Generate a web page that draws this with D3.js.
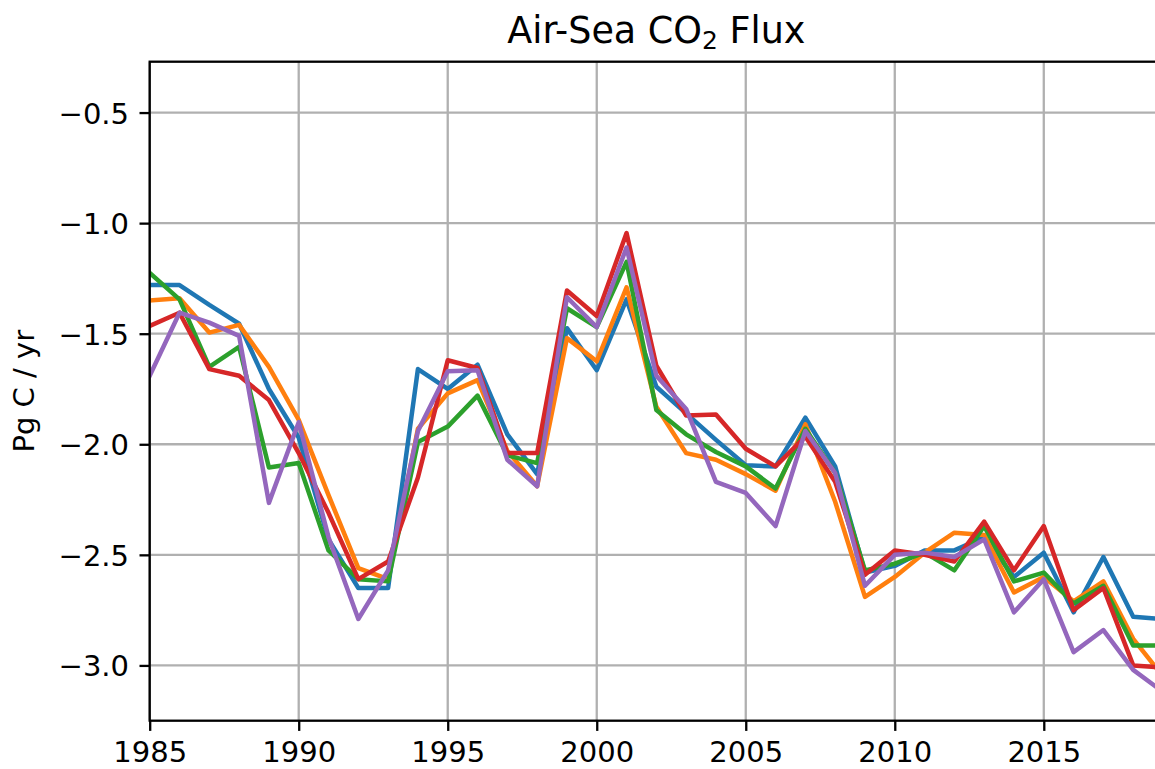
<!DOCTYPE html>
<html>
<head>
<meta charset="utf-8">
<script src="https://cdn.jsdelivr.net/npm/d3@7"></script>
<style>
  html, body { margin: 0; padding: 0; background: #ffffff; }
  svg { display: block; font-family: "DejaVu Sans", sans-serif; }
</style>
</head>
<body>
<svg id="chart" width="1155" height="769"></svg>
<script>
// ---------------- data ----------------
const years = d3.range(1985, 2020);

const seriesBlue = [-1.28, -1.28, -1.37, -1.455, -1.75, -1.97, -2.43, -2.65, -2.65, -1.66,
  -1.75, -1.64, -1.955, -2.135, -1.475, -1.665, -1.345, -1.74, -1.86, -1.98,
  -2.095, -2.10, -1.88, -2.10, -2.58, -2.55, -2.48, -2.48, -2.42, -2.60,
  -2.49, -2.76, -2.51, -2.78, -2.79];

const seriesOrange = [-1.35, -1.34, -1.495, -1.46, -1.65, -1.89, -2.23, -2.56, -2.61, -1.93,
  -1.77, -1.71, -2.03, -2.19, -1.52, -1.625, -1.29, -1.83, -2.04, -2.07,
  -2.135, -2.21, -1.91, -2.26, -2.69, -2.60, -2.49, -2.40, -2.41, -2.67,
  -2.60, -2.71, -2.62, -2.88, -3.05];

const seriesGreen = [-1.225, -1.345, -1.65, -1.56, -2.105, -2.085, -2.48, -2.61, -2.62, -1.99,
  -1.92, -1.78, -2.05, -2.085, -1.385, -1.47, -1.175, -1.845, -1.955, -2.035,
  -2.10, -2.20, -1.93, -2.13, -2.57, -2.54, -2.49, -2.57, -2.37, -2.62,
  -2.58, -2.72, -2.64, -2.91, -2.91];

const seriesRed = [-1.465, -1.405, -1.66, -1.69, -1.80, -2.04, -2.31, -2.61, -2.53, -2.15,
  -1.62, -1.655, -2.04, -2.04, -1.305, -1.42, -1.045, -1.645, -1.87, -1.865,
  -2.02, -2.10, -1.965, -2.17, -2.59, -2.48, -2.50, -2.53, -2.35, -2.57,
  -2.37, -2.75, -2.65, -3.00, -3.01];

const seriesPurple = [-1.69, -1.405, -1.45, -1.51, -2.265, -1.90, -2.42, -2.79, -2.57, -1.94,
  -1.67, -1.665, -2.07, -2.19, -1.335, -1.47, -1.11, -1.69, -1.84, -2.17,
  -2.22, -2.37, -1.94, -2.13, -2.64, -2.50, -2.49, -2.51, -2.43, -2.76,
  -2.61, -2.94, -2.84, -3.02, -3.12];

const seriesList = [seriesBlue, seriesOrange, seriesGreen, seriesRed, seriesPurple];
const seriesColors = ["#1f77b4", "#ff7f0e", "#2ca02c", "#d62728", "#9467bd"];

const xTicks = [1985, 1990, 1995, 2000, 2005, 2010, 2015];
const yTicks = [-3.0, -2.5, -2.0, -1.5, -1.0, -0.5];

const titleMain = "Air-Sea CO";
const titleSub = "2";
const titleEnd = " Flux";
const yLabel = "Pg C / yr";

// ---------------- layout ----------------
const plotL = 149.7, plotR = 1163, plotT = 61.7, plotB = 720.7;
const fs = 29;
const x = d3.scaleLinear().domain([1985, 2019]).range([plotL, plotR]);
const y = d3.scaleLinear().domain([-3.25, -0.27]).range([plotB, plotT]);

const svg = d3.select("#chart");
svg.append("rect").attr("width", 1155).attr("height", 769).attr("fill", "#fff");

svg.append("defs").append("clipPath").attr("id", "plotclip")
  .append("rect").attr("x", plotL).attr("y", plotT)
  .attr("width", plotR - plotL).attr("height", plotB - plotT);

// grid
const grid = svg.append("g");
grid.selectAll(".gx").data(xTicks).join("line")
  .attr("x1", d => x(d)).attr("x2", d => x(d))
  .attr("y1", plotT).attr("y2", plotB)
  .attr("stroke", "#b0b0b0").attr("stroke-width", 2.3);
grid.selectAll(".gy").data(yTicks).join("line")
  .attr("x1", plotL).attr("x2", plotR)
  .attr("y1", d => y(d)).attr("y2", d => y(d))
  .attr("stroke", "#b0b0b0").attr("stroke-width", 2.3);

// lines
const line = d3.line().x((d, i) => x(years[i])).y(d => y(d));
const lines = svg.append("g").attr("clip-path", "url(#plotclip)");
seriesList.forEach((s, k) => {
  lines.append("path").datum(s)
    .attr("d", line)
    .attr("fill", "none")
    .attr("stroke", seriesColors[k])
    .attr("stroke-width", 4.5)
    .attr("stroke-linejoin", "round")
    .attr("stroke-linecap", "square");
});

// axes
const fmtY = d => (d < 0 ? "\u2212" : "") + Math.abs(d).toFixed(1);
const xAxis = d3.axisBottom(x).tickValues(xTicks).tickFormat(d3.format("d"))
  .tickSize(10.2).tickPadding(10);
const yAxis = d3.axisLeft(y).tickValues(yTicks).tickFormat(fmtY)
  .tickSize(10.2).tickPadding(10.5);

const gx = svg.append("g").attr("transform", `translate(0,${plotB})`).call(xAxis);
const gy = svg.append("g").attr("transform", `translate(${plotL},0)`).call(yAxis);
[gx, gy].forEach(g => {
  g.select(".domain").remove();
  g.selectAll(".tick line").attr("stroke", "#000").attr("stroke-width", 2.3);
  g.selectAll(".tick text").attr("fill", "#000")
    .style("font-family", "'DejaVu Sans', sans-serif").style("font-size", fs + "px");
});
gx.selectAll(".tick text").attr("dy", null).attr("y", 41.5);
gy.selectAll(".tick text").attr("dy", null).attr("y", fs * 0.3645);

// spines
svg.append("rect").attr("x", plotL).attr("y", plotT)
  .attr("width", plotR - plotL).attr("height", plotB - plotT)
  .attr("fill", "none").attr("stroke", "#000").attr("stroke-width", 2.3);

// title
const title = svg.append("text")
  .attr("x", (plotL + plotR) / 2).attr("y", 43.3)
  .attr("text-anchor", "middle")
  .style("font-size", "36.5px").attr("fill", "#000");
title.append("tspan").text(titleMain);
title.append("tspan").attr("dy", 5.5).style("font-size", "25px").text(titleSub);
title.append("tspan").attr("dy", -5.5).style("font-size", "36.5px").text(titleEnd);

// y label
svg.append("text")
  .attr("transform", `translate(33.5,${(plotT + plotB) / 2}) rotate(-90)`)
  .attr("text-anchor", "middle")
  .style("font-size", fs + "px").attr("fill", "#000")
  .text(yLabel);
</script>
</body>
</html>
